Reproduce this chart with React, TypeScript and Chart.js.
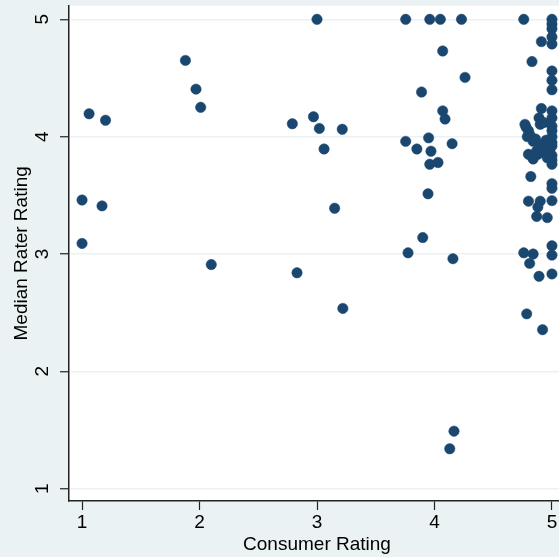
import React, { useEffect, useRef } from "react";
import { Chart, registerables } from "chart.js";

Chart.register(...registerables);

// Consumer rating (x) against median rater rating (y), one entry per product
const consumerRating: number[] = [
  1.0, 1.0, 1.06, 1.17, 1.2, 1.88, 1.97, 2.01, 2.1,
  2.79, 2.83, 2.97, 3.0, 3.02, 3.06, 3.15, 3.215, 3.22,
  3.755, 3.96, 4.05, 4.23, 4.07, 4.26, 3.89, 4.07, 4.09, 3.755, 3.95, 3.85, 3.97,
  4.15, 3.96, 4.03, 3.945, 3.9, 3.775, 4.157, 4.166, 4.13,
  4.76, 5.0, 5.0, 5.0, 4.91, 5.0, 5.0, 4.83, 5.0, 5.0, 5.0, 4.91, 5.0, 4.89, 5.0,
  4.77, 4.9, 4.93, 5.0, 4.78, 4.8, 5.0, 4.81, 5.0, 4.79, 4.86, 4.84, 4.95, 4.93,
  5.0, 4.9, 5.0, 4.92, 4.87, 4.98, 4.8, 4.88, 4.95, 5.0, 4.83, 4.84, 4.96, 5.0, 5.0,
  4.82, 5.0, 5.0, 4.8, 4.9, 5.0, 4.88, 4.87, 4.96,
  5.0, 5.0, 4.76, 4.84, 4.81, 4.89, 5.0, 4.785, 4.92,
];

const medianRaterRating: number[] = [
  3.46, 3.09, 4.195, 3.41, 4.14, 4.65, 4.405, 4.25, 2.91,
  4.11, 2.84, 4.17, 5.0, 4.07, 3.895, 3.39, 4.063, 2.536,
  5.0, 5.0, 5.0, 5.0, 4.73, 4.505, 4.38, 4.22, 4.15, 3.96, 3.99, 3.895, 3.876,
  3.94, 3.765, 3.78, 3.513, 3.14, 3.01, 2.96, 1.49, 1.34,
  5.0, 5.0, 4.96, 4.92, 4.81, 4.85, 4.79, 4.64, 4.56, 4.48, 4.4, 4.24, 4.22, 4.16, 4.16,
  4.105, 4.105, 4.12, 4.09, 4.08, 4.05, 4.05, 4.02, 4.0, 4.0, 3.98, 3.96, 3.97, 3.935,
  3.95, 3.93, 3.92, 3.9, 3.88, 3.88, 3.85, 3.85, 3.86, 3.84, 3.83, 3.81, 3.82, 3.8, 3.765,
  3.66, 3.6, 3.56, 3.45, 3.45, 3.455, 3.4, 3.32, 3.31,
  3.07, 2.99, 3.01, 3.0, 2.92, 2.81, 2.83, 2.49, 2.355,
];

const xTicks: number[] = [1, 2, 3, 4, 5];
const yTicks: number[] = [1, 2, 3, 4, 5];

const xTitle = "Consumer Rating";
const yTitle = "Median Rater Rating";

const NAVY = "#1a476f";
const REGION = "#eaf2f3";
const FONT = "'Liberation Sans', Arial, Helvetica, sans-serif";

const plotBackground = {
  id: "plotBackground",
  beforeDraw(chart: Chart) {
    const { ctx, chartArea, width, height } = chart;
    ctx.save();
    ctx.fillStyle = REGION;
    ctx.fillRect(0, 0, width, height);
    ctx.fillStyle = "#ffffff";
    ctx.fillRect(chartArea.left, chartArea.top, chartArea.right - chartArea.left, chartArea.bottom - chartArea.top);
    ctx.restore();
  },
};

export default function App() {
  const canvasRef = useRef<HTMLCanvasElement | null>(null);

  useEffect(() => {
    if (!canvasRef.current) return;
    const points = consumerRating.map((x, i) => ({ x, y: medianRaterRating[i] }));
    const chart = new Chart(canvasRef.current, {
      type: "scatter",
      data: {
        datasets: [
          {
            data: points,
            backgroundColor: NAVY,
            borderColor: NAVY,
            borderWidth: 0.5,
            pointRadius: 5.2,
            clip: false,
          },
        ],
      },
      plugins: [plotBackground],
      options: {
        animation: false,
        responsive: false,
        devicePixelRatio: 1,
        layout: { padding: { top: 4, right: 10, left: 0, bottom: 0 } },
        plugins: { legend: { display: false }, tooltip: { enabled: false } },
        scales: {
          x: {
            type: "linear",
            min: 0.889,
            max: 5.111,
            afterBuildTicks: (scale: any) => {
              scale.ticks = xTicks.map((v) => ({ value: v }));
            },
            afterFit: (scale: any) => {
              scale.height = 56;
              scale.paddingLeft = 0;
              scale.paddingRight = 0;
            },
            border: { display: true, color: "#222", width: 1.5 },
            grid: { drawOnChartArea: false, drawTicks: true, tickLength: 9, tickColor: "#222", tickWidth: 1.2 },
            ticks: { color: "#000", font: { family: FONT, size: 19 }, padding: 1, maxRotation: 0, minRotation: 0 },
            title: { display: true, text: xTitle, color: "#000", font: { family: FONT, size: 19 }, padding: { top: 0, bottom: 1 } },
          },
          y: {
            type: "linear",
            min: 0.895,
            max: 5.116,
            afterBuildTicks: (scale: any) => {
              scale.ticks = yTicks.map((v) => ({ value: v }));
            },
            afterFit: (scale: any) => {
              scale.width = 69;
              scale.paddingTop = 0;
              scale.paddingBottom = 0;
            },
            border: { display: true, color: "#222", width: 1.5 },
            grid: { color: REGION, lineWidth: 1.5, drawTicks: true, tickLength: 9, tickColor: "#222", tickWidth: 1.2 },
            ticks: {
              color: "#000",
              font: { family: FONT, size: 19 },
              padding: 12,
              minRotation: 90,
              maxRotation: 90,
              crossAlign: "center",
            },
            title: { display: true, text: yTitle, color: "#000", font: { family: FONT, size: 19 }, padding: { top: 10, bottom: 0 } },
          },
        },
      },
    });
    return () => chart.destroy();
  }, []);

  return (
    <div
      style={{
        position: "fixed",
        left: 0,
        top: 0,
        width: 559,
        height: 557,
        overflow: "hidden",
        background: REGION,
      }}
    >
      <canvas ref={canvasRef} width={575} height={557} style={{ display: "block", width: 575, height: 557 }} />
    </div>
  );
}
